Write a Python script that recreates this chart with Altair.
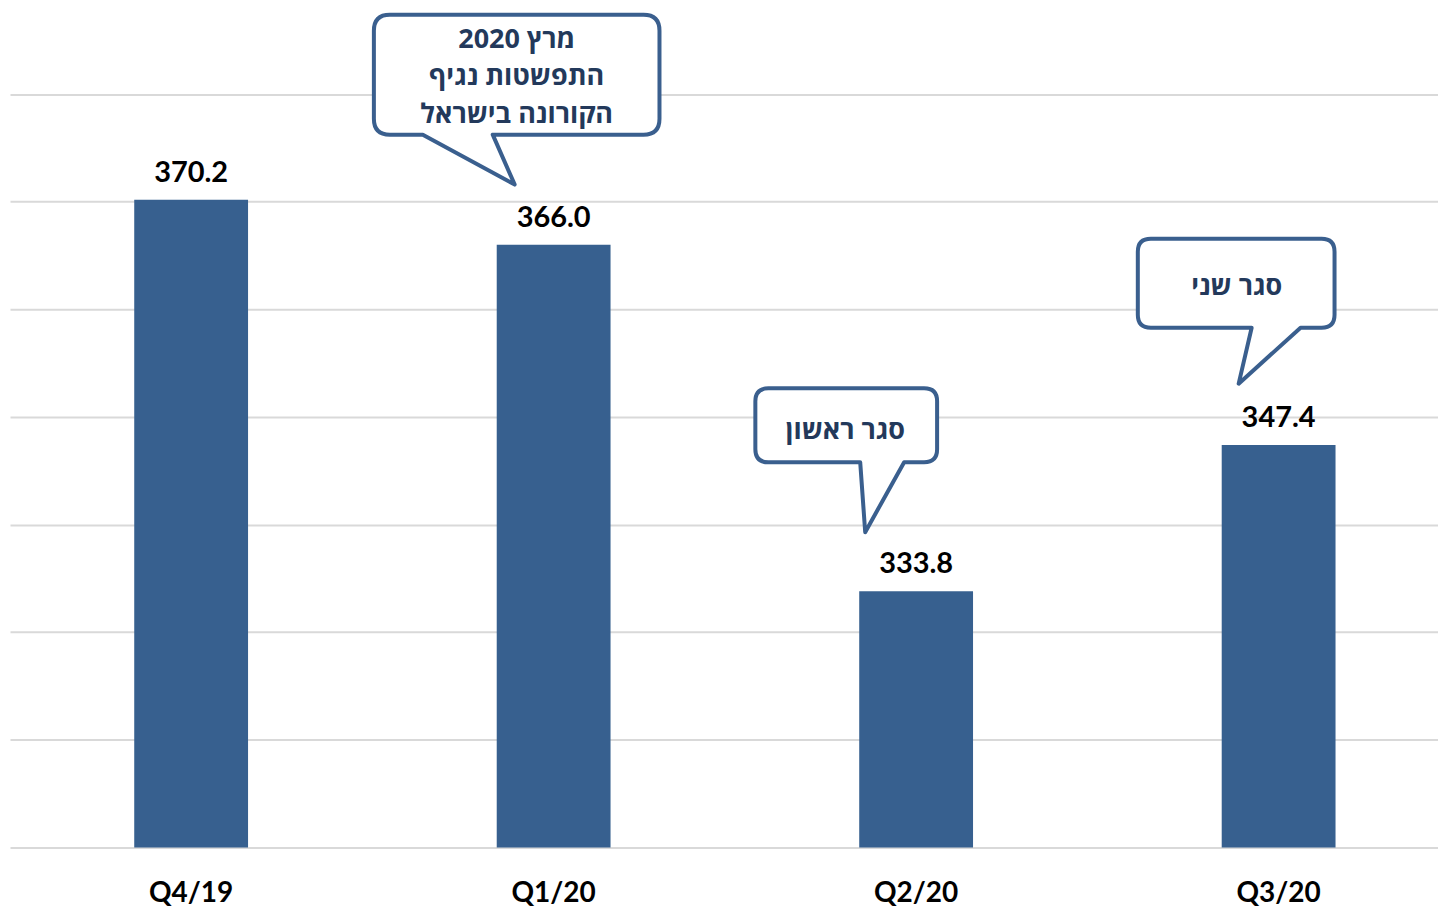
import altair as alt
import pandas as pd

# ---- data ----
quarters = ["Q4/19", "Q1/20", "Q2/20", "Q3/20"]
values = [370.2, 366.0, 333.8, 347.4]
labels = ["370.2", "366.0", "333.8", "347.4"]
y_base = 310

# callouts: attached quarter, y value of the pointer tip, text lines
callout_quarters = ["Q1/20", "Q2/20", "Q3/20"]
callout_tip_values = [371.6, 339.3, 353.1]
callout_texts = [
    "2020 מרץ\nהתפשטות נגיף\nהקורונה בישראל",
    "סגר ראשון",
    "סגר שני",
]

# ---- styles ----
BAR_COLOR = "#37608F"
BOX_STROKE = "#3A5F8E"
BOX_TEXT = "#23395B"
GRID = "#D9D9D9"
FONT = "Lato"
HEB_FONT = "Open Sans"

# box geometry (pixels, relative to the tip)
geom = [
    dict(l=-180, r=106, t=-170, b=-50, x1=-131, x2=-61, tx=-39, r0=16, dx=-37, dy=-137),
    dict(l=-161, r=21, t=-144, b=-70, x1=-56, x2=-12, tx=-51, r0=13, dx=-71, dy=-93),
    dict(l=-141, r=56, t=-145, b=-56, x1=-27, x2=22, tx=-40, r0=13, dx=-42, dy=-89),
]


def bubble_path(g):
    l, r, t, b, x1, x2, tx, c = g["l"], g["r"], g["t"], g["b"], g["x1"], g["x2"], g["tx"], g["r0"]
    return (
        f"M{x1},{b} L{tx},0 L{x2},{b} L{r - c},{b} Q{r},{b} {r},{b - c} "
        f"L{r},{t + c} Q{r},{t} {r - c},{t} L{l + c},{t} Q{l},{t} {l},{t + c} "
        f"L{l},{b - c} Q{l},{b} {l + c},{b} Z"
    )


df = pd.DataFrame({"q": quarters, "v": values, "label": labels})

x_scale = alt.Scale(domain=quarters, paddingInner=0.686, paddingOuter=0.3127, align=0.548)
y_scale = alt.Scale(domain=[y_base, 387.95], nice=False, zero=False)

x_enc = alt.X(
    "q:N",
    scale=x_scale,
    sort=quarters,
    axis=alt.Axis(
        title=None,
        ticks=False,
        domain=False,
        labelAngle=0,
        labelFont=FONT,
        labelFontSize=28,
        labelFontWeight="bold",
        labelColor="#000000",
        labelPadding=32,
    ),
)
y_enc = alt.Y(
    "v:Q",
    scale=y_scale,
    axis=alt.Axis(
        title=None,
        labels=False,
        ticks=False,
        domain=False,
        grid=True,
        gridColor=GRID,
        gridWidth=2,
        values=[310, 320, 330, 340, 350, 360, 370, 380],
    ),
)

bars = alt.Chart(df).mark_bar(color=BAR_COLOR).encode(x=x_enc, y=y_enc, y2=alt.datum(y_base))

value_text = alt.Chart(df).mark_text(
    font=FONT, fontSize=29, fontWeight="bold", color="#000000",
    baseline="alphabetic", dy=-18,
).encode(x=alt.X("q:N", scale=x_scale, sort=quarters), y=alt.Y("v:Q", scale=y_scale), text="label:N")

layers = [bars, value_text]

for i in range(len(callout_quarters)):
    cdf = pd.DataFrame({"q": [callout_quarters[i]], "v": [callout_tip_values[i]], "t": [callout_texts[i]]})
    g = geom[i]
    shape = alt.Chart(cdf).mark_point(
        shape=bubble_path(g), size=4, filled=True, fill="#FFFFFF", fillOpacity=1,
        stroke=BOX_STROKE, strokeWidth=4, strokeJoin="round", opacity=1,
    ).encode(x=alt.X("q:N", scale=x_scale, sort=quarters), y=alt.Y("v:Q", scale=y_scale))
    txt = alt.Chart(cdf).mark_text(
        font=HEB_FONT, fontSize=27, fontWeight="bold", color=BOX_TEXT,
        baseline="alphabetic", align="center", dx=g["dx"], dy=g["dy"],
        lineBreak="\n", lineHeight=37.5,
    ).encode(x=alt.X("q:N", scale=x_scale, sort=quarters), y=alt.Y("v:Q", scale=y_scale), text="t:N")
    layers += [shape, txt]

chart = alt.layer(*layers).properties(
    width=1430,
    height=840,
    padding={"left": 2, "top": 0, "right": 0, "bottom": 0},
    background="#FFFFFF",
).configure_view(stroke=None)

chart.save("out.html", embed_options={"renderer": "svg", "actions": False})
